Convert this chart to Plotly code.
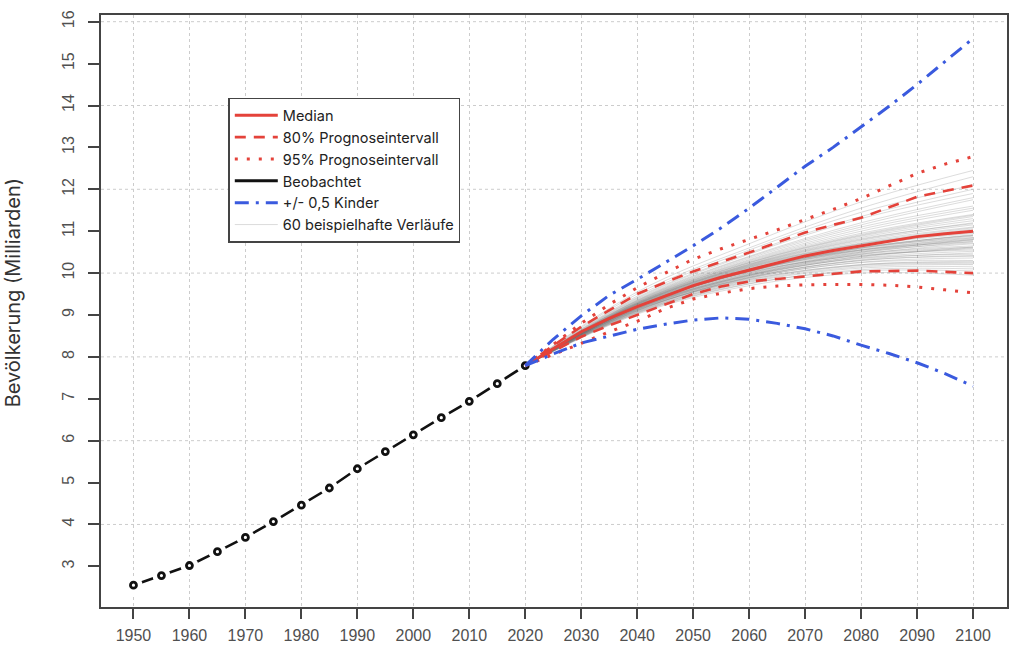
import plotly.graph_objects as go

# ---------------- data ----------------
obs_years = [1950, 1955, 1960, 1965, 1970, 1975, 1980, 1985, 1990, 1995, 2000, 2005, 2010, 2015, 2020]
obs_pop = [2.55, 2.78, 3.02, 3.35, 3.69, 4.07, 4.46, 4.87, 5.33, 5.74, 6.14, 6.55, 6.94, 7.36, 7.79]

proj_years = [2020, 2025, 2030, 2035, 2040, 2045, 2050, 2055, 2060, 2065, 2070, 2075, 2080, 2085, 2090, 2095, 2100]
median = [7.79, 8.20, 8.60, 8.92, 9.20, 9.45, 9.70, 9.90, 10.07, 10.25, 10.41, 10.54, 10.65, 10.77, 10.87, 10.94, 11.00]
pi80_upper = [7.79, 8.27, 8.72, 9.12, 9.50, 9.78, 10.04, 10.27, 10.49, 10.73, 10.97, 11.15, 11.32, 11.57, 11.82, 11.96, 12.09]
pi80_lower = [7.79, 8.13, 8.48, 8.75, 9.00, 9.25, 9.50, 9.68, 9.80, 9.86, 9.92, 9.98, 10.04, 10.05, 10.06, 10.03, 10.00]
pi95_upper = [7.79, 8.30, 8.80, 9.25, 9.65, 10.00, 10.33, 10.58, 10.80, 11.03, 11.28, 11.52, 11.78, 12.08, 12.38, 12.60, 12.78]
pi95_lower = [7.79, 8.05, 8.32, 8.60, 8.85, 9.15, 9.38, 9.52, 9.63, 9.69, 9.72, 9.73, 9.73, 9.71, 9.67, 9.60, 9.53]
half_child_upper = [7.79, 8.42, 8.98, 9.47, 9.85, 10.25, 10.65, 11.08, 11.55, 12.05, 12.55, 13.00, 13.48, 13.98, 14.50, 15.05, 15.60]
half_child_lower = [7.79, 8.07, 8.33, 8.50, 8.66, 8.78, 8.88, 8.93, 8.90, 8.80, 8.67, 8.50, 8.28, 8.08, 7.86, 7.60, 7.30]

# 60 example trajectories (values at these years)
traj_years = [2020, 2040, 2060, 2080, 2100]
trajectories = [
    [7.79, 9.05, 9.75, 10.05, 10.05], [7.79, 9.12, 9.85, 10.20, 10.25], [7.79, 9.18, 9.95, 10.35, 10.45],
    [7.79, 9.25, 10.15, 10.70, 11.05], [7.79, 9.30, 10.25, 10.90, 11.35], [7.79, 9.10, 9.90, 10.30, 10.40],
    [7.79, 9.20, 10.05, 10.60, 10.90], [7.79, 9.35, 10.35, 11.10, 11.60], [7.79, 9.15, 9.95, 10.45, 10.70],
    [7.79, 9.22, 10.10, 10.55, 10.75], [7.79, 9.28, 10.20, 10.80, 11.20], [7.79, 9.08, 9.80, 10.15, 10.20],
    [7.79, 9.40, 10.45, 11.30, 11.90], [7.79, 9.18, 10.00, 10.50, 10.80], [7.79, 9.24, 10.12, 10.65, 10.95],
    [7.79, 9.02, 9.70, 10.00, 9.95], [7.79, 9.32, 10.28, 10.95, 11.40], [7.79, 9.20, 10.02, 10.42, 10.55],
    [7.79, 9.26, 10.18, 10.75, 11.10], [7.79, 9.14, 9.92, 10.38, 10.60], [7.79, 9.45, 10.55, 11.45, 12.10],
    [7.79, 9.21, 10.08, 10.60, 10.85], [7.79, 9.11, 9.88, 10.25, 10.30], [7.79, 9.29, 10.22, 10.85, 11.25],
    [7.79, 9.17, 9.98, 10.48, 10.75], [7.79, 9.36, 10.38, 11.15, 11.75], [7.79, 9.06, 9.78, 10.12, 10.15],
    [7.79, 9.23, 10.10, 10.62, 10.90], [7.79, 9.19, 10.04, 10.55, 10.82], [7.79, 9.27, 10.16, 10.70, 11.00],
    [7.79, 9.13, 9.90, 10.32, 10.48], [7.79, 9.50, 10.60, 11.55, 12.30], [7.79, 9.16, 9.96, 10.40, 10.58],
    [7.79, 9.30, 10.24, 10.88, 11.30], [7.79, 9.09, 9.84, 10.20, 10.28], [7.79, 9.21, 10.06, 10.58, 10.88],
    [7.79, 9.25, 10.14, 10.68, 11.02], [7.79, 9.04, 9.74, 10.08, 10.10], [7.79, 9.33, 10.30, 11.00, 11.50],
    [7.79, 9.18, 10.00, 10.46, 10.65], [7.79, 9.22, 10.09, 10.60, 10.92], [7.79, 9.14, 9.93, 10.36, 10.52],
    [7.79, 9.38, 10.40, 11.20, 11.80], [7.79, 9.20, 10.03, 10.50, 10.72], [7.79, 9.26, 10.17, 10.72, 11.08],
    [7.79, 9.10, 9.87, 10.26, 10.36], [7.79, 9.28, 10.21, 10.82, 11.18], [7.79, 9.16, 9.97, 10.44, 10.62],
    [7.79, 9.42, 10.48, 11.35, 12.00], [7.79, 9.19, 10.05, 10.52, 10.78], [7.79, 9.24, 10.13, 10.66, 10.98],
    [7.79, 9.12, 9.89, 10.30, 10.42], [7.79, 9.31, 10.26, 10.92, 11.38], [7.79, 9.07, 9.82, 10.18, 10.22],
    [7.79, 9.22, 10.07, 10.56, 10.84], [7.79, 9.34, 10.32, 11.05, 11.55], [7.79, 9.15, 9.94, 10.40, 10.62],
    [7.79, 9.27, 10.19, 10.78, 11.15], [7.79, 9.55, 10.70, 11.70, 12.45], [7.79, 9.20, 10.04, 10.54, 10.80],
]

x_ticks = [1950, 1960, 1970, 1980, 1990, 2000, 2010, 2020, 2030, 2040, 2050, 2060, 2070, 2080, 2090, 2100]
y_ticks = [3, 4, 5, 6, 7, 8, 9, 10, 11, 12, 13, 14, 15, 16]
y_grid = [4, 6, 8, 10, 12, 14, 16]

# ---------------- styles ----------------
RED = "#e4423a"
BLUE = "#3a5ade"
GRAY = "rgba(110,110,110,0.30)"
TICKFONT = dict(family="Liberation Sans, Arial, sans-serif", size=16, color="#505050")
TEXTFONT = "Inter, Roboto, Liberation Sans, sans-serif"

fig = go.Figure()

# example trajectories
for i, tr in enumerate(trajectories):
    fig.add_trace(go.Scatter(
        x=traj_years, y=tr, mode="lines", line=dict(color=GRAY, width=0.8, shape="spline"),
        name="60 beispielhafte Verläufe", legendgroup="traj", showlegend=(i == 0),
        legendrank=6, hoverinfo="skip"))

# observed: line + gap halo + open circles
fig.add_trace(go.Scatter(x=obs_years, y=obs_pop, mode="lines",
                         line=dict(color="#111111", width=2.6), showlegend=False, hoverinfo="skip"))
fig.add_trace(go.Scatter(x=obs_years, y=obs_pop, mode="markers",
                         marker=dict(color="white", size=18, line=dict(width=0)),
                         showlegend=False, hoverinfo="skip"))
fig.add_trace(go.Scatter(x=obs_years, y=obs_pop, mode="markers",
                         marker=dict(symbol="circle-open", color="#111111", size=6, line=dict(width=2.8)),
                         showlegend=False))

# projections
fig.add_trace(go.Scatter(x=proj_years, y=pi95_upper, mode="lines", name="95% Prognoseintervall",
                         line=dict(color=RED, width=3, dash="3px,9px"), legendgroup="95", legendrank=3))
fig.add_trace(go.Scatter(x=proj_years, y=pi95_lower, mode="lines", name="95% Prognoseintervall",
                         line=dict(color=RED, width=3, dash="3px,9px"), legendgroup="95", showlegend=False))
fig.add_trace(go.Scatter(x=proj_years, y=pi80_upper, mode="lines", name="80% Prognoseintervall",
                         line=dict(color=RED, width=2.6, dash="11px,8px"), legendgroup="80", legendrank=2))
fig.add_trace(go.Scatter(x=proj_years, y=pi80_lower, mode="lines", name="80% Prognoseintervall",
                         line=dict(color=RED, width=2.6, dash="11px,8px"), legendgroup="80", showlegend=False))
fig.add_trace(go.Scatter(x=proj_years, y=median, mode="lines", name="Median",
                         line=dict(color=RED, width=3), legendrank=1))
fig.add_trace(go.Scatter(x=proj_years, y=half_child_upper, mode="lines", name="+/- 0,5 Kinder",
                         line=dict(color=BLUE, width=3, dash="14px,7px,3px,7px"), legendgroup="half",
                         legendrank=5))
fig.add_trace(go.Scatter(x=proj_years, y=half_child_lower, mode="lines", name="+/- 0,5 Kinder",
                         line=dict(color=BLUE, width=3, dash="14px,7px,3px,7px"), legendgroup="half",
                         showlegend=False))

# legend-only entry for observed
fig.add_trace(go.Scatter(x=[None], y=[None], mode="lines", name="Beobachtet",
                         line=dict(color="#111111", width=3), legendrank=4))

fig.update_layout(
    width=1013, height=646,
    margin=dict(l=101, r=6, t=15, b=39, autoexpand=False),
    paper_bgcolor="white", plot_bgcolor="white",
    showlegend=True,
    legend=dict(x=0.1405, y=0.86, xanchor="left", yanchor="top",
                bgcolor="white", bordercolor="#444444", borderwidth=1.5,
                font=dict(family=TEXTFONT, size=14.5, color="#222222"),
                tracegroupgap=0, itemwidth=43),
    annotations=[dict(text="Bevölkerung (Milliarden)", textangle=-90, xref="paper", yref="paper",
                      x=-0.097, y=0.53, xanchor="center", yanchor="middle", showarrow=False,
                      font=dict(family=TEXTFONT, size=20, color="#333333"))],
)

fig.update_xaxes(range=[1944.2, 2106.07], tickvals=x_ticks, ticktext=[str(v) for v in x_ticks],
                 automargin=False,
                 ticks="outside", ticklen=10, tickwidth=1.5, tickcolor="#444444",
                 ticklabelstandoff=3,
                 tickfont=TICKFONT, showline=True, linecolor="#444444", linewidth=1.8, mirror=True,
                 showgrid=True, gridcolor="#cccccc", griddash="dot", gridwidth=1, zeroline=False)
fig.update_yaxes(range=[2.03, 16.16], tickvals=y_ticks, ticktext=[str(v) for v in y_ticks],
                 automargin=False,
                 tickangle=-90, ticks="outside", ticklen=11, tickwidth=1.5, tickcolor="#444444",
                 ticklabelstandoff=8,
                 tickfont=TICKFONT, showline=True, linecolor="#444444", linewidth=1.8, mirror=True,
                 showgrid=False, zeroline=False)

# horizontal grid at even values only
for gy in y_grid:
    fig.add_hline(y=gy, line=dict(color="#cccccc", width=1, dash="dot"), layer="below")

fig.write_html("out.html", config={"displayModeBar": False},
               post_script="document.body.style.margin='0px';")
